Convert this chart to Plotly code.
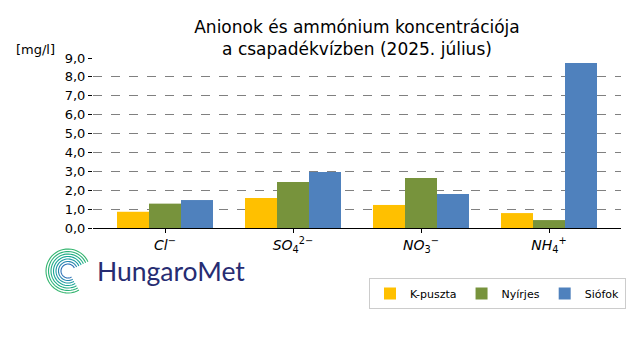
import numpy as np
import plotly.graph_objects as go

categories = ["<i>Cl</i><sup>−</sup>", "<i>SO</i><sub>4</sub><sup>2−</sup>",
              "<i>NO</i><sub>3</sub><sup>−</sup>", "<i>NH</i><sub>4</sub><sup>+</sup>"]
kpuszta = [0.86, 1.59, 1.22, 0.79]
nyirjes = [1.29, 2.44, 2.65, 0.42]
siofok = [1.48, 2.96, 1.80, 8.73]
yticks = [0, 1, 2, 3, 4, 5, 6, 7, 8, 9]

fig = go.Figure()
for name, vals, col in [("K-puszta", kpuszta, "#FFC000"),
                        ("Nyírjes", nyirjes, "#77933C"),
                        ("Siófok", siofok, "#4F81BD")]:
    fig.add_trace(go.Bar(x=list(range(len(categories))), y=vals, name=name,
                         marker=dict(color=col, line=dict(width=0))))

# page has an 8px body margin; figure is laid out in page pixels minus 8
W, H = 632, 352
shapes = []
cols = ["#2a6fb5", "#2585ad", "#1e99a3", "#1aa596", "#22ad86", "#2db37a", "#34b56f"]
for i, r in enumerate(np.linspace(7, 22, 7)):
    th = np.radians(np.linspace(25, 300, 40))
    xs = r * np.cos(th)
    ys = r * np.sin(th)
    path = "M " + " L ".join(f"{x:.2f},{y:.2f}" for x, y in zip(xs, ys))
    shapes.append(dict(type="path", path=path, xref="paper", yref="paper",
                       xsizemode="pixel", ysizemode="pixel",
                       xanchor=(68 - 93) / 528, yanchor=(228 - 271) / 170,
                       line=dict(color=cols[i], width=1.1)))

fig.update_layout(
    width=W, height=H,
    margin=dict(l=85, r=19, t=50, b=132, autoexpand=False),
    paper_bgcolor="white", plot_bgcolor="white",
    font=dict(family="DejaVu Sans", size=13, color="black"),
    separators=",.",
    barmode="group", bargap=0.25, bargroupgap=0,
    title=dict(text="Anionok és ammónium koncentrációja<br>a csapadékvízben (2025. július)",
               x=349 / W, xanchor="center", y=1 - 25 / H, yanchor="middle",
               font=dict(size=17, family="DejaVu Sans")),
    xaxis=dict(range=[-0.5625, 3.5625], tickvals=list(range(len(categories))),
               ticktext=categories, showgrid=False, showline=True,
               linecolor="black", linewidth=1.3, ticks="outside", ticklen=4,
               tickcolor="black", tickfont=dict(size=14), zeroline=False),
    yaxis=dict(range=[0, 9.0], tickvals=yticks, tickformat=".1f",
               showgrid=True, gridcolor="#808080", griddash="dash", gridwidth=1,
               ticks="outside", ticklen=4, tickcolor="black", showline=False,
               zeroline=False),
    legend=dict(orientation="h", x=618 / W, xref="container", xanchor="right",
                y=1 - 270 / H, yref="container", yanchor="top",
                bordercolor="#cccccc", borderwidth=1, font=dict(size=11),
                itemwidth=30),
    shapes=shapes,
    annotations=[
        dict(text="[mg/l]", xref="paper", yref="paper", x=(35 - 93) / 528,
             y=(228 - 50) / 170, xanchor="center", yanchor="middle",
             showarrow=False, font=dict(size=13)),
        dict(text="HungaroMet", xref="paper", yref="paper", x=(95 - 93) / 528,
             y=(228 - 271) / 170, xanchor="left", yanchor="middle", showarrow=False,
             font=dict(size=26.5, family="Lato", color="#262c72")),
    ],
)

fig.write_html("out.html")
